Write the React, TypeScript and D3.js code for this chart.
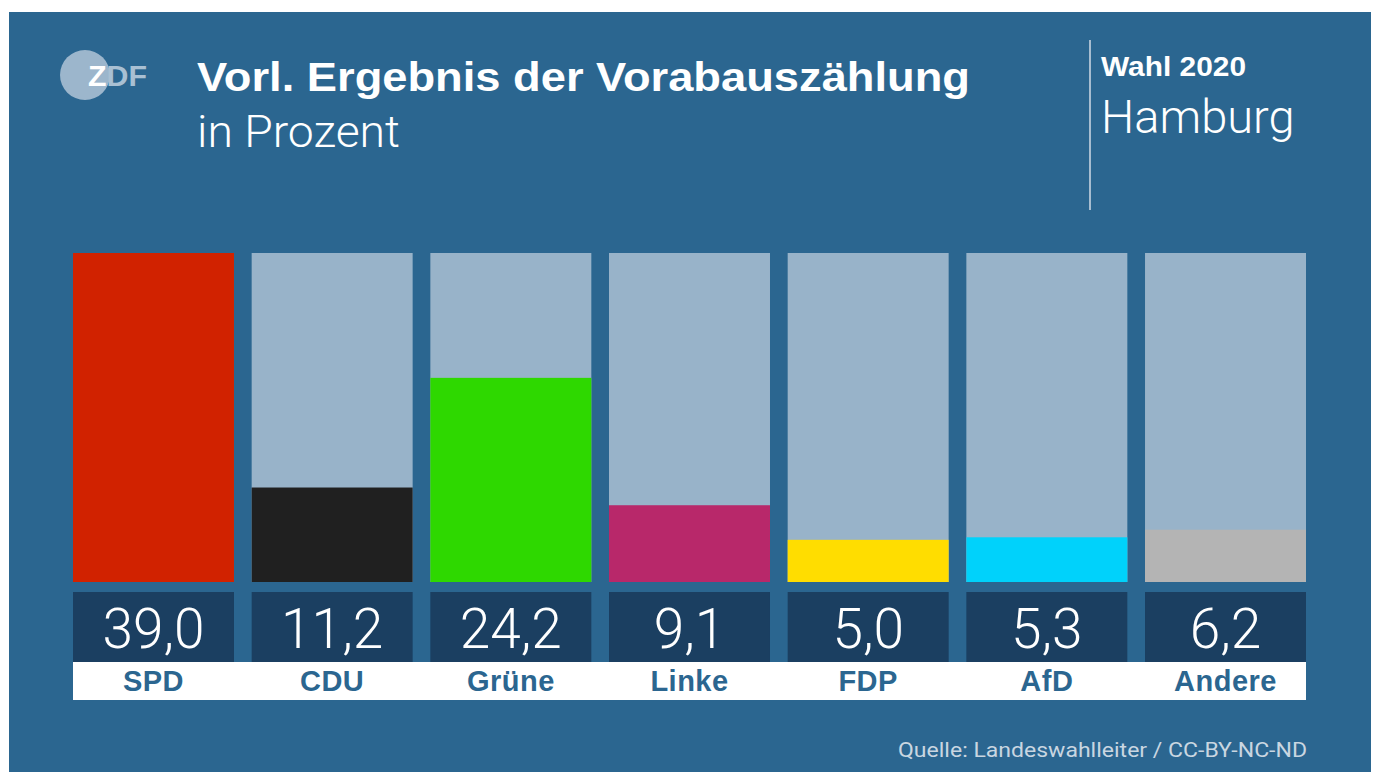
import React from "react";
import * as d3 from "d3";

const parties = ["SPD", "CDU", "Grüne", "Linke", "FDP", "AfD", "Andere"];
const values = [39.0, 11.2, 24.2, 9.1, 5.0, 5.3, 6.2];
const colors = ["#d12200", "#202020", "#2ed800", "#b8286a", "#ffdd00", "#00d2fb", "#b4b4b4"];
const valueLabels = ["39,0", "11,2", "24,2", "9,1", "5,0", "5,3", "6,2"];
const title = "Vorl. Ergebnis der Vorabauszählung";
const subtitle = "in Prozent";
const election = "Wahl 2020";
const region = "Hamburg";
const source = "Quelle: Landeswahlleiter / CC-BY-NC-ND";

const W = 1376;
const H = 772;
const BG = "#2b6690";
const TRACK = "#98b3c9";
const BOX = "#1b3f61";
const LIGHT = "Roboto, 'Liberation Sans', Arial, sans-serif";
const BOLD = "'Liberation Sans', Arial, sans-serif";

export default function App() {
  const x = d3.scaleBand<string>().domain(parties).range([73, 1306]).paddingInner(0.099).paddingOuter(0);
  const y = d3.scaleLinear().domain([0, 39]).range([582, 253]);
  const bw = x.bandwidth();

  return (
    <svg width={W} height={H} style={{ position: "absolute", left: 0, top: 0, display: "block" }}>
      <rect x={0} y={0} width={W} height={H} fill="#ffffff" />
      <rect x={9} y={12} width={1362} height={H - 12} fill={BG} />

      {/* logo */}
      <circle cx={85} cy={75} r={25} fill="#9cb6cc" />
      <text x={88} y={86} fontFamily={BOLD} fontWeight="bold" fontSize={29} textLength={59} lengthAdjust="spacingAndGlyphs">
        <tspan fill="#ffffff">Z</tspan>
        <tspan fill="#a9c0d3">DF</tspan>
      </text>

      <text x={197} y={91} fill="#fff" fontFamily={BOLD} fontWeight="bold" fontSize={40} textLength={773} lengthAdjust="spacingAndGlyphs">{title}</text>
      <text x={197} y={147} fill="#fff" fontFamily={LIGHT} fontWeight={300} fontSize={44} textLength={203} lengthAdjust="spacingAndGlyphs">{subtitle}</text>

      <line x1={1090} x2={1090} y1={40} y2={210} stroke="#a7bdd0" strokeWidth={2} />
      <text x={1101} y={76} fill="#fff" fontFamily={BOLD} fontWeight="bold" fontSize={28} textLength={145} lengthAdjust="spacingAndGlyphs">{election}</text>
      <text x={1101} y={133} fill="#fff" fontFamily={LIGHT} fontWeight={300} fontSize={47}>{region}</text>

      {parties.map((p, i) => {
        const x0 = x(p)!;
        return (
          <g key={p}>
            <rect x={x0} y={y(39)} width={bw} height={y(0) - y(39)} fill={TRACK} />
            <rect x={x0} y={y(values[i])} width={bw} height={y(0) - y(values[i])} fill={colors[i]} />
            <rect x={x0} y={592} width={bw} height={70} fill={BOX} />
            <text x={x0 + bw / 2} y={648} textAnchor="middle" fill="#fff" fontFamily={LIGHT} fontWeight={300} fontSize={55}>
              {valueLabels[i]}
            </text>
          </g>
        );
      })}
      <rect x={73} y={662} width={1233} height={38} fill="#ffffff" />
      {parties.map((p) => (
        <text key={p + "l"} x={x(p)! + bw / 2} y={691} textAnchor="middle" fill={BG} fontFamily={BOLD} fontWeight="bold" fontSize={29} letterSpacing={0.5}>
          {p}
        </text>
      ))}

      <text x={1307} y={757} textAnchor="end" fill="#c9d6e1" fontFamily={LIGHT} fontWeight={400} fontSize={21} textLength={409} lengthAdjust="spacingAndGlyphs">{source}</text>
    </svg>
  );
}
